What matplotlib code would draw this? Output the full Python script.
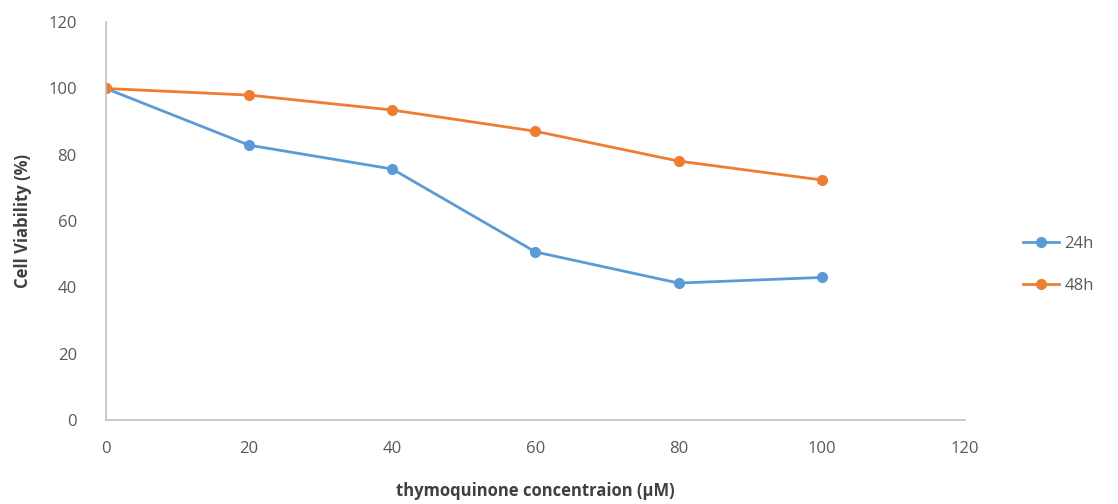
import matplotlib
matplotlib.use("Agg")
import matplotlib.pyplot as plt

conc = [0, 20, 40, 60, 80, 100]
viab_24h = [100, 82.9, 75.7, 50.7, 41.3, 43.0]
viab_48h = [100, 98.0, 93.5, 87.1, 78.1, 72.4]

plt.rcParams['font.family'] = ['Open Sans', 'DejaVu Sans']

fig = plt.figure(figsize=(11.18, 5.04), dpi=100)
ax = fig.add_axes([0.0948, 0.1667, 0.7682, 0.7893])

ax.plot(conc, viab_24h, color='#5B9BD5', lw=2, marker='o', ms=7, label='24h')
ax.plot(conc, viab_48h, color='#ED7D31', lw=2, marker='o', ms=7, label='48h')

ax.set_xlim(0, 120)
ax.set_ylim(0, 120)
ax.set_xticks(range(0, 121, 20))
ax.set_yticks(range(0, 121, 20))
for s in ['top', 'right']:
    ax.spines[s].set_visible(False)
for s in ['left', 'bottom']:
    ax.spines[s].set_color('#bfbfbf')
    ax.spines[s].set_linewidth(1.2)
ax.tick_params(length=0, labelsize=12, labelcolor='#595959')
ax.tick_params(axis='x', pad=15)
ax.tick_params(axis='y', pad=21)

ax.set_xlabel('thymoquinone concentraion (µM)', fontsize=12, fontweight='bold',
              color='#404040', labelpad=18)
ax.set_ylabel('Cell Viability (%)', fontsize=12, fontweight='bold',
              color='#404040', labelpad=12)

ax.legend(loc='center left', bbox_to_anchor=(1.05, 0.39), frameon=False,
          fontsize=12, labelcolor='#595959', handlelength=2.2, labelspacing=1.6,
          handletextpad=0.3)

fig.savefig('out.png', dpi=100)
